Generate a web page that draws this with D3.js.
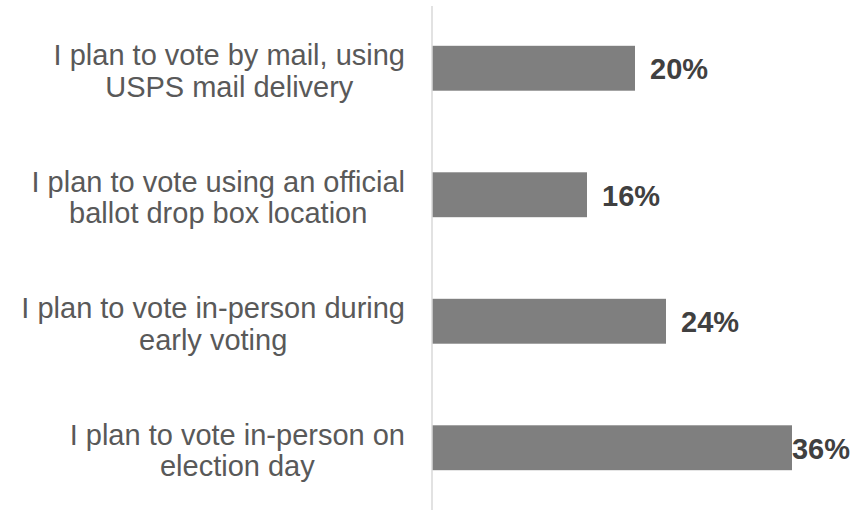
<!DOCTYPE html>
<html>
<head>
<meta charset="utf-8">
<script src="https://cdn.jsdelivr.net/npm/d3@7"></script>
<style>
  body { margin: 0; background: #fff; }
  svg { display: block; font-family: Arial, "Liberation Sans", sans-serif; }
</style>
</head>
<body>
<div id="chart"></div>
<script>
// Data
const labels = [
    ["I plan to vote by mail, using", "USPS mail delivery"],
    ["I plan to vote using an official", "ballot drop box location"],
    ["I plan to vote in-person during", "early voting"],
    ["I plan to vote in-person on", "election day"]
];
const values = [20.3, 15.5, 23.4, 36.0];
const valueLabels = ["20%", "16%", "24%", "36%"];

const W = 865, H = 510;
const axisX = 432;

const svg = d3.select("#chart")
    .append("svg")
    .attr("width", W)
    .attr("height", H);

// Scales
const x = d3.scaleLinear()
    .domain([0, 36])
    .range([axisX, 792]);

const y = d3.scaleBand()
    .domain(d3.range(values.length))
    .range([5, 511])
    .paddingInner(0.645)
    .paddingOuter(0.3225);

// Bars
svg.selectAll(".bar")
    .data(values)
    .enter()
    .append("rect")
    .attr("class", "bar")
    .attr("x", x(0))
    .attr("y", (d, i) => y(i))
    .attr("width", d => x(d) - x(0))
    .attr("height", y.bandwidth())
    .attr("fill", "#7f7f7f");

// Axis line
svg.append("line")
    .attr("x1", axisX)
    .attr("x2", axisX)
    .attr("y1", 6)
    .attr("y2", H)
    .style("stroke", "#d9d9d9")
    .style("stroke-width", 1.5);

// Category labels, lines centered within a block right-aligned to 405
const labelRight = 405;
labels.forEach((lines, i) => {
    const cy = y(i) + y.bandwidth() / 2;
    const g = svg.append("g");
    const texts = lines.map((t, j) => g.append("text")
        .attr("y", cy - 3 + j * 31.5)
        .attr("fill", "#595959")
        .style("font-size", "29px")
        .text(t));
    const maxW = d3.max(texts, t => t.node().getComputedTextLength());
    texts.forEach(t => t.attr("x", labelRight - maxW / 2).attr("text-anchor", "middle"));
});

// Value labels
svg.selectAll(".val")
    .data(values)
    .enter()
    .append("text")
    .attr("class", "val")
    .attr("y", (d, i) => y(i) + y.bandwidth() / 2 + 11)
    .attr("fill", "#404040")
    .style("font-size", "29px")
    .style("font-weight", "bold")
    .text((d, i) => valueLabels[i])
    .attr("x", function (d) {
        const tw = this.getComputedTextLength();
        return Math.min(x(d) + 15, W - 15 - tw);
    });
</script>
</body>
</html>
